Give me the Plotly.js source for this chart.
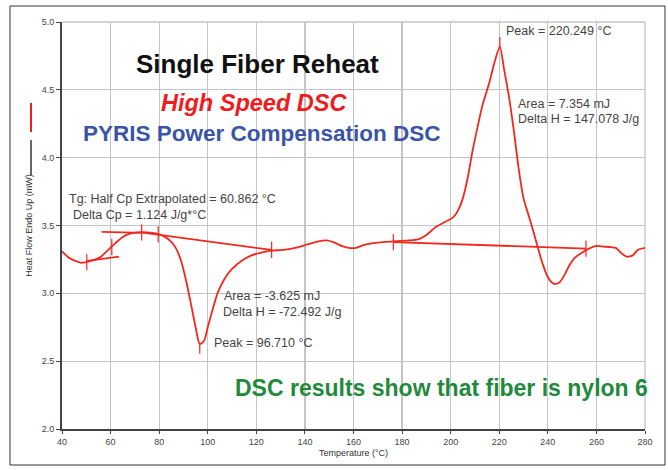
<!DOCTYPE html>
<html>
<head>
<meta charset="utf-8">
<script src="https://cdn.plot.ly/plotly-3.0.1.min.js"></script>
<style>
html,body{margin:0;padding:0;background:#fff;}
#chart{width:668px;height:470px;}
</style>
</head>
<body>
<div id="chart"></div>
<script>
// Main DSC curve (Temperature °C, Heat Flow Endo Up mW)
const temperature = [40,43,46,48,50,53,56,59,62,65,68,71,75,79,82,85,87,89,91,93,95,96.7,98.5,100,102,104,107,110,114,118,122,126,131,136,141,146,149,152,155,158,161,164,168,173,178,183,187,190,194,198,201,203,205,207,209,211,213,216,218,220.25,222,224,226,228,230,232,234,236,238,240,242,243.5,245,247,249,251,254,257,260,263,266,268,270,272.5,275,277,280];
const heatFlow = [3.31,3.26,3.235,3.225,3.23,3.245,3.27,3.32,3.37,3.415,3.44,3.45,3.45,3.44,3.42,3.38,3.33,3.24,3.10,2.93,2.75,2.625,2.65,2.75,2.88,3.00,3.11,3.18,3.24,3.28,3.30,3.315,3.32,3.335,3.36,3.385,3.39,3.375,3.35,3.335,3.335,3.355,3.37,3.38,3.385,3.39,3.40,3.43,3.49,3.53,3.56,3.61,3.70,3.85,4.05,4.22,4.38,4.56,4.70,4.82,4.65,4.45,4.20,3.92,3.70,3.58,3.46,3.33,3.21,3.12,3.075,3.07,3.085,3.14,3.21,3.26,3.30,3.33,3.35,3.345,3.34,3.335,3.30,3.27,3.28,3.32,3.335];

// Analysis baselines
const tgLowT = [50.4, 63.5];
const tgLowH = [3.24, 3.27];
const tgHighT = [56.3, 74, 126.3];
const tgHighH = [3.453, 3.445, 3.32];
const meltBaseT = [176.4, 255.7];
const meltBaseH = [3.378, 3.33];

// Analysis limit markers (small vertical ticks on the curve)
const markerT = [50.2, 60.5, 72.8, 79.6, 126.3, 176.4, 255.7];
const markerH = [3.23, 3.34, 3.45, 3.435, 3.32, 3.378, 3.33];
const peakT = [96.71, 220.249];
const peakH = [2.625, 4.82];

// Axis ticks
const xTicks = [40,60,80,100,120,140,160,180,200,220,240,260,280];
const xTickText = ['40','60','80','100','120','140','160','180','200','220','240','260','280'];
const yTicks = [2.0,2.5,3.0,3.5,4.0,4.5,5.0];
const yTickText = ['2.0','2.5','3.0','3.5','4.0','4.5','5.0'];

const RED = '#f0281e';
const halfLen = 0.06;
const mx = [], my = [];
markerT.forEach((t,i)=>{ mx.push(t,t,null); my.push(markerH[i]-halfLen, markerH[i]+halfLen, null); });
// peak markers: below the minimum, above the maximum
mx.push(peakT[0],peakT[0],null); my.push(peakH[0]-0.07, peakH[0], null);
mx.push(peakT[1],peakT[1],null); my.push(peakH[1], peakH[1]+0.07, null);

const lineStyle = {color: RED, width: 1.8};
const traces = [
  {x: temperature, y: heatFlow, mode:'lines', line:{color:RED, width:1.8, shape:'spline', smoothing:0.6}, hoverinfo:'skip'},
  {x: tgLowT, y: tgLowH, mode:'lines', line: lineStyle},
  {x: tgHighT, y: tgHighH, mode:'lines', line: lineStyle},
  {x: meltBaseT, y: meltBaseH, mode:'lines', line: lineStyle},
  {x: mx, y: my, mode:'lines', line:{color:RED, width:1.2}, connectgaps:false}
];

const small = {family:'Liberation Sans, Arial, sans-serif', size:12.5, color:'#444'};
function note(text, x, y){ return {text, x, y, xref:'x', yref:'y', xanchor:'left', yanchor:'middle', showarrow:false, font: small}; }

const layout = {
  width:668, height:470,
  margin:{l:62, r:23, t:22, b:41},
  paper_bgcolor:'#ffffff', plot_bgcolor:'#ffffff',
  showlegend:false,
  font:{family:'Liberation Sans, Arial, sans-serif'},
  xaxis:{
    range:[40,280], tickvals:xTicks, ticktext:xTickText,
    showgrid:true, gridcolor:'#c4c4c4', gridwidth:1.3,
    showline:true, linecolor:'#444', linewidth:2,
    ticks:'outside', ticklen:3, tickcolor:'#444',
    tickfont:{size:9, color:'#444'}, zeroline:false,
    title:{text:'Temperature (°C)', font:{size:9, color:'#333'}, standoff:4}
  },
  yaxis:{
    range:[2,5], tickvals:yTicks, ticktext:yTickText,
    showgrid:true, gridcolor:'#c4c4c4', gridwidth:1.3,
    showline:true, linecolor:'#444', linewidth:2,
    ticks:'outside', ticklen:4, tickcolor:'#444',
    tickfont:{size:9, color:'#444'}, zeroline:false,
    title:{text:'Heat Flow Endo Up (mW)', font:{size:9, color:'#333'}, standoff:8}
  },
  shapes:[
    {type:'rect', xref:'paper', yref:'paper', x0:-0.0892, x1:1.0343, y0:-0.0885, y1:1.0393, line:{color:'#333', width:1}, layer:'below'},
    {type:'line', xref:'paper', yref:'paper', x0:1, x1:1, y0:0, y1:1, line:{color:'#c4c4c4', width:1.3}, layer:'below'},
    {type:'line', xref:'paper', yref:'paper', x0:0, x1:1, y0:1, y1:1, line:{color:'#c4c4c4', width:1.3}, layer:'below'},
    {type:'line', xref:'paper', yref:'paper', x0:-0.0532, x1:-0.0532, y0:0.7297, y1:0.801, line:{color:'#ee2020', width:2}},
    {type:'line', xref:'paper', yref:'paper', x0:-0.0532, x1:-0.0532, y0:0.624, y1:0.710, line:{color:'#666', width:2}}
  ],
  annotations:[
    {text:'<b>Single Fiber Reheat</b>', xref:'paper', yref:'paper', x:(257-62)/583, y:(429-64)/407, xanchor:'center', yanchor:'middle', showarrow:false, font:{size:26, color:'#111'}},
    {text:'<b><i>High Speed DSC</i></b>', xref:'paper', yref:'paper', x:(254-62)/583, y:(429-103)/407, xanchor:'center', yanchor:'middle', showarrow:false, font:{size:23.5, color:'#ee1c1c'}},
    {text:'<b>PYRIS Power Compensation DSC</b>', xref:'paper', yref:'paper', x:(262-62)/583, y:(429-133)/407, xanchor:'center', yanchor:'middle', showarrow:false, font:{size:22.5, color:'#3a55a8'}},
    {text:'<b>DSC results show that fiber is nylon 6</b>', xref:'paper', yref:'paper', x:(441-62)/583, y:(429-388)/407, xanchor:'center', yanchor:'middle', showarrow:false, font:{size:23, color:'#1f8a3c'}},
    note('Peak = 220.249 °C', 222.0, 4.934),
    note('Area = 7.354 mJ', 226.8, 4.397),
    note('Delta H = 147.078 J/g', 226.8, 4.287),
    note('Tg: Half Cp Extrapolated = 60.862 °C', 41.9, 3.699),
    note('Delta Cp = 1.124 J/g*°C', 43.6, 3.576),
    note('Area = -3.625 mJ', 105.7, 2.98),
    note('Delta H = -72.492 J/g', 105.5, 2.863),
    note('Peak = 96.710 °C', 101.9, 2.632)
  ]
};

Plotly.newPlot('chart', traces, layout, {displayModeBar:false, staticPlot:true});
</script>
</body>
</html>
